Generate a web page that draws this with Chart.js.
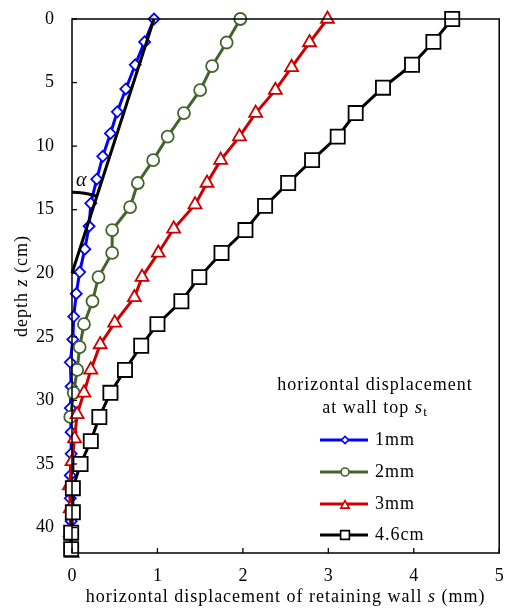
<!DOCTYPE html>
<html>
<head>
<meta charset="utf-8">
<script src="https://cdn.jsdelivr.net/npm/chart.js@4/dist/chart.umd.min.js"></script>
<style>
  html,body{margin:0;padding:0;background:#fff;}
  #wrap{width:511px;height:611px;position:relative;}
</style>
</head>
<body>
<div id="wrap"><canvas id="c"></canvas></div>
<script>
// displacement s (mm) vs depth z (cm)
const depth1 = [0,1.8,3.6,5.5,7.3,9.0,10.8,12.6,14.5,16.3,18.1,19.9,21.6,23.4,25.2,27.0,28.9,30.6,32.5,34.2,35.9,37.7,39.5];
const s1mm   = [0.96,0.85,0.74,0.63,0.53,0.45,0.36,0.29,0.22,0.20,0.15,0.09,0.05,0.02,0.01,-0.02,-0.01,-0.02,-0.01,-0.01,-0.02,-0.02,-0.01];
const depth2 = [0,1.85,3.7,5.6,7.4,9.25,11.1,12.9,14.8,16.6,18.4,20.3,22.2,24.0,25.8,27.6,29.4,31.3];
const s2mm   = [1.97,1.81,1.64,1.50,1.31,1.12,0.95,0.77,0.68,0.47,0.47,0.31,0.24,0.14,0.09,0.06,0.02,-0.02];
const depth3 = [0,1.85,3.8,5.6,7.4,9.25,11.1,12.9,14.6,16.5,18.4,20.3,21.9,23.9,25.6,27.6,29.4,31.1,33.0,34.8,36.7,38.5,40.4,42.0];
const s3mm   = [2.99,2.78,2.57,2.38,2.15,1.96,1.74,1.58,1.44,1.19,1.01,0.82,0.73,0.50,0.33,0.22,0.14,0.06,0.03,0.00,-0.03,-0.02,-0.02,0.00];
const depth4 = [0,1.8,3.6,5.4,7.4,9.25,11.1,12.9,14.7,16.6,18.4,20.3,22.2,24.0,25.7,27.6,29.4,31.3,33.2,35.0,36.9,38.8,40.4,41.7];
const s46cm  = [4.45,4.23,3.98,3.64,3.32,3.11,2.81,2.53,2.26,2.03,1.75,1.49,1.28,1.00,0.81,0.62,0.45,0.32,0.22,0.10,0.01,0.01,-0.01,-0.01];
// straight reference line (angle alpha)
const refS = [0.96, 0];
const refZ = [0, 20];

const xTicks = [0,1,2,3,4,5];
const yTicks = [0,5,10,15,20,25,30,35,40];
const seriesLabels = ['1mm','2mm','3mm','4.6cm'];

const FONT = "'Liberation Serif', 'Times New Roman', serif";
const BLUE = '#0000ff', GREEN = '#43642a', RED = '#cc0000', BLACK = '#000000';

const pts = (xs, zs) => xs.map((v,i)=>({x:v,y:zs[i]}));

function mk(label, xs, zs, color, style, r, order){
    return {label, data:pts(xs,zs), showLine:true, borderColor:color, borderWidth:3,
        pointStyle:style, pointRadius:r, pointBorderWidth:1.8, pointBackgroundColor:'#fff',
        pointBorderColor:color, clip:false, order};
}

function marker(ctx, style, x, y, r, color){
    ctx.save();
    ctx.beginPath();
    if(style==='rectRot'){ ctx.moveTo(x,y-r);ctx.lineTo(x+r,y);ctx.lineTo(x,y+r);ctx.lineTo(x-r,y);ctx.closePath(); }
    else if(style==='circle'){ ctx.arc(x,y,r,0,Math.PI*2); }
    else if(style==='triangle'){ ctx.moveTo(x,y-r);ctx.lineTo(x+r*0.95,y+r*0.7);ctx.lineTo(x-r*0.95,y+r*0.7);ctx.closePath(); }
    else { ctx.rect(x-r,y-r,2*r,2*r); }
    ctx.fillStyle='#fff'; ctx.fill();
    ctx.lineWidth=1.6; ctx.strokeStyle=color; ctx.stroke();
    ctx.restore();
}

// draw a run of [text, font] pieces centred (or left-aligned) at x
function runs(ctx, parts, x, y, center){
    let total=0;
    parts.forEach(p=>{ctx.font=p[1]; p.w=ctx.measureText(p[0]).width; total+=p.w;});
    let cx = center ? x-total/2 : x;
    ctx.textAlign='left';
    parts.forEach(p=>{ctx.font=p[1]; ctx.fillText(p[0],cx,y+(p[2]||0)); cx+=p.w;});
}

const decor = {
    id:'decor',
    afterDatasetsDraw(chart){
        const {ctx, chartArea:a, scales:{x,y}} = chart;
        ctx.save();
        // frame
        ctx.strokeStyle='#000'; ctx.lineWidth=1.5;
        ctx.strokeRect(a.left,a.top,a.right-a.left,a.bottom-a.top);
        // inner ticks
        ctx.lineWidth=1.3;
        xTicks.forEach(v=>{const px=x.getPixelForValue(v); ctx.beginPath();ctx.moveTo(px,a.bottom);ctx.lineTo(px,a.bottom-5);ctx.stroke();});
        yTicks.forEach(v=>{const py=y.getPixelForValue(v); ctx.beginPath();ctx.moveTo(a.left,py);ctx.lineTo(a.left+5,py);ctx.stroke();});
        // alpha arc
        const cx=x.getPixelForValue(refS[1]), cy=y.getPixelForValue(refZ[1]);
        const ex=x.getPixelForValue(refS[0]), ey=y.getPixelForValue(refZ[0]);
        const ang=Math.atan2(ey-cy,ex-cx);
        ctx.lineWidth=3; ctx.strokeStyle='#000';
        ctx.beginPath(); ctx.arc(cx,cy,81,-Math.PI/2,ang); ctx.stroke();
        ctx.fillStyle='#000';
        ctx.font="italic 20px "+FONT; ctx.textAlign='left'; ctx.textBaseline='middle';
        ctx.fillText('\u03b1', a.left+4, cy-93);

        ctx.letterSpacing='1px';
        const R="18px "+FONT, I="italic 18px "+FONT;
        // axis titles
        runs(ctx, [['horizontal displacement of retaining wall ',R],['s',I],[' (mm)',R]], (a.left+a.right)/2, 597, true);
        ctx.save();
        ctx.translate(22,(a.top+a.bottom)/2); ctx.rotate(-Math.PI/2);
        runs(ctx, [['depth ',R],['z',I],[' (cm)',R]], 0, 0, true);
        ctx.restore();

        // legend
        const lx=375;
        runs(ctx, [['horizontal displacement',R]], lx, 385, true);
        runs(ctx, [['at wall top ',R],['s',"italic 19px "+FONT],['t',"13px "+FONT,5]], lx, 408, true);

        const rows=[440,472,504,535];
        const lr=[3.6,4,4.4,4.4];
        [0,1,2,3].forEach((di,i)=>{
            const ds=chart.data.datasets[di];
            ctx.strokeStyle=ds.borderColor; ctx.lineWidth=3;
            ctx.beginPath(); ctx.moveTo(320,rows[i]); ctx.lineTo(368,rows[i]); ctx.stroke();
            marker(ctx, ds.pointStyle, 345, rows[i]+(ds.pointStyle==='triangle'?1:0), lr[i], ds.borderColor);
            ctx.fillStyle='#000';
            runs(ctx, [[seriesLabels[i],R]], 375, rows[i], false);
        });
        ctx.restore();
    }
};

new Chart(document.getElementById('c'), {
    type:'scatter',
    data:{datasets:[
        mk(seriesLabels[0], s1mm, depth1, BLUE, 'rectRot', 5.5, 5),
        mk(seriesLabels[1], s2mm, depth2, GREEN, 'circle', 6, 4),
        mk(seriesLabels[2], s3mm, depth3, RED, 'triangle', 7.5, 3),
        mk(seriesLabels[3], s46cm, depth4, BLACK, 'rect', 10, 1),
        {label:'ref', data:pts(refS,refZ), showLine:true, borderColor:'#000', borderWidth:3, pointRadius:0, clip:false, order:2}
    ]},
    options:{
        responsive:true, maintainAspectRatio:false, animation:false,
        layout:{padding:{top:19,right:8,left:0,bottom:0}},
        plugins:{legend:{display:false}, tooltip:{enabled:false}},
        scales:{
            x:{type:'linear', min:0, max:5, position:'bottom',
                grid:{display:false, drawTicks:false}, border:{display:false},
                ticks:{stepSize:1, padding:12, color:'#000', font:{family:FONT,size:18}},
                afterFit(s){ s.height=58; s.paddingLeft=0; s.paddingRight=0; }},
            y:{type:'linear', min:0, max:42, reverse:true,
                grid:{display:false, drawTicks:false}, border:{display:false},
                ticks:{stepSize:5, includeBounds:false, padding:18, color:'#000', font:{family:FONT,size:18}},
                afterFit(s){ s.width=72; s.paddingTop=0; s.paddingBottom=0; }}
        }
    },
    plugins:[decor]
});
</script>
</body>
</html>
